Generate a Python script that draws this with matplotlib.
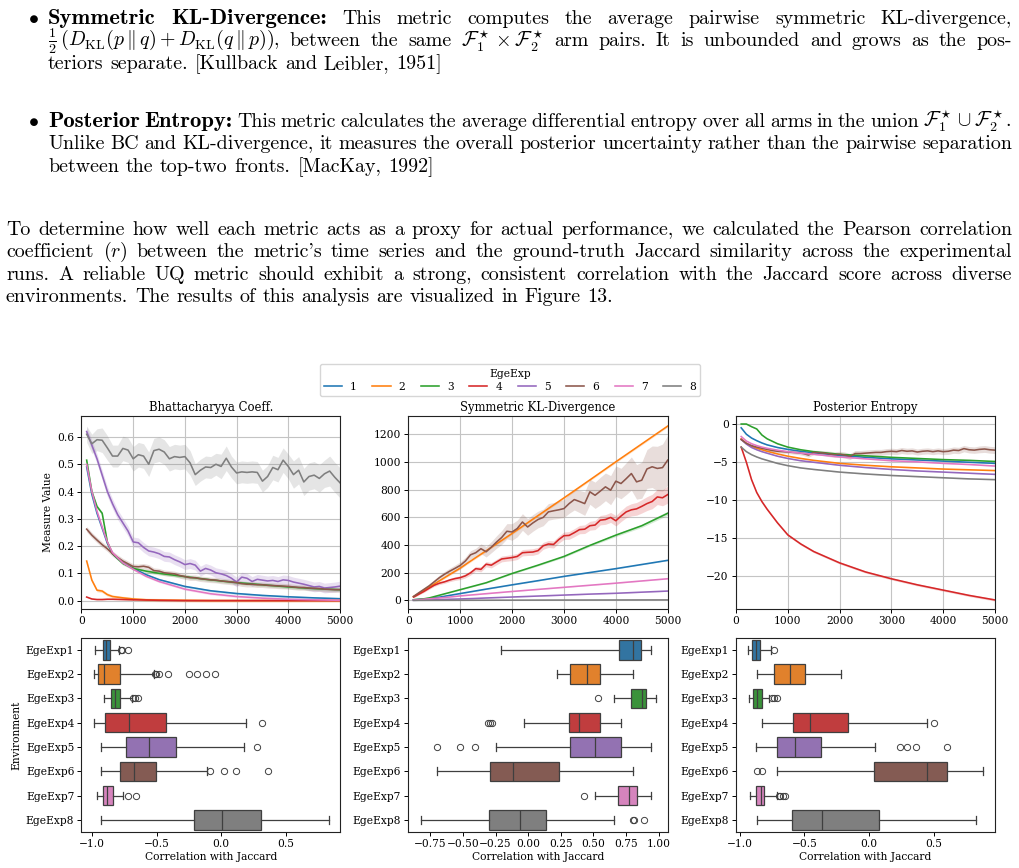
import numpy as np
import matplotlib
matplotlib.use("Agg")
import matplotlib.pyplot as plt
from matplotlib.lines import Line2D
from matplotlib.transforms import IdentityTransform

W, H = 1020, 868
plt.rcParams["font.family"] = "DejaVu Serif"
plt.rcParams["mathtext.fontset"] = "cm"

# ---------------------------------------------------------------- data
STEPS = list(range(100, 5001, 100))            # every logged step
STEPS_S = [100, 200, 300, 400, 500, 600, 800, 1000, 1250, 1500,
           2000, 2500, 3000, 3500, 4000, 4500, 5000]   # sparse log for smooth curves

ENVS = ["EgeExp1", "EgeExp2", "EgeExp3", "EgeExp4",
        "EgeExp5", "EgeExp6", "EgeExp7", "EgeExp8"]

# Bhattacharyya coefficient, mean and CI half-width per run
BC_1 = [.490, .390, .320, .265, .210, .172, .138, .118, .095, .077,
        .052, .036, .026, .019, .014, .010, .007]
BC_2 = [.145, .075, .038, .035, .022, .015, .010, .006, .003, .002,
        .001, .000, .000, .000, .000, .000, .000]
BC_3 = [.515, .400, .345, .320, .215, .172, .136, .118, .108, .100,
        .088, .076, .066, .058, .050, .044, .040]
BC_4 = [.013, .006, .004, .004, .005, .005, .004, .003, .002, .001,
        .000, .000, .000, .000, .000, .000, .000]
BC_5 = [.620, .570, .520, .460, .400, .355, .315, .285, .255, .215,
        .212, .195, .182, .178, .172, .162, .160, .150, .142, .132,
        .136, .130, .108, .118, .112, .102, .098, .092, .082, .068,
        .086, .082, .070, .078, .075, .072, .074, .070, .076, .074,
        .068, .064, .060, .055, .050, .052, .046, .048, .050, .053]
BC_6 = [.262, .240, .222, .205, .190, .172, .158, .145, .135, .125,
        .124, .126, .122, .110, .108, .102, .100, .098, .092, .088,
        .084, .084, .080, .078, .076, .075, .072, .070, .068, .066,
        .062, .060, .060, .058, .058, .056, .055, .054, .053, .052,
        .050, .048, .048, .046, .045, .044, .042, .041, .040, .040]
BC_7 = [.500, .400, .328, .270, .215, .176, .138, .115, .089, .070,
        .042, .025, .015, .009, .005, .003, .001]
BC_8 = [.610, .575, .590, .588, .560, .530, .530, .558, .552, .520,
        .535, .530, .500, .550, .555, .545, .520, .528, .525, .528,
        .505, .462, .478, .490, .488, .500, .492, .522, .490, .468,
        .472, .470, .472, .470, .438, .455, .488, .480, .515, .492,
        .462, .478, .435, .455, .460, .448, .465, .475, .452, .432]
BC_8_CI = [.030, .035, .040, .045, .045, .040, .040, .045, .045, .045,
           .045, .045, .045, .045, .045, .045, .045, .045, .045, .045,
           .045, .040, .040, .040, .040, .040, .045, .045, .040, .040,
           .040, .040, .040, .040, .040, .040, .045, .045, .045, .045,
           .050, .050, .050, .050, .050, .050, .050, .055, .055, .055]

# symmetric KL divergence
KL_1 = [5, 8, 11, 14, 20, 24, 37, 50, 66, 82, 113, 143, 174, 202, 230, 260, 290]
KL_2 = [28, 50, 73, 96, 119, 142, 188, 234, 297, 359, 484, 613, 741, 871, 1002, 1131, 1260]
KL_3 = [5, 8, 12, 18, 28, 38, 58, 78, 103, 128, 195, 255, 318, 398, 472, 540, 630]
KL_3_CI = [1, 1, 1, 2, 2, 2, 3, 3, 4, 4, 5, 6, 7, 8, 10, 12, 15]
KL_4 = [25, 45, 65, 88, 110, 125, 135, 148, 158, 165,
        178, 200, 230, 225, 262, 255, 278, 300, 305, 310,
        318, 345, 348, 350, 360, 395, 408, 405, 440, 468,
        470, 490, 512, 515, 540, 545, 580, 585, 600, 576,
        610, 640, 655, 662, 680, 700, 715, 748, 742, 765]
KL_4_CI = [5, 6, 7, 8, 9, 10, 11, 12, 13, 14,
           15, 16, 17, 18, 19, 20, 20, 21, 21, 22,
           22, 23, 23, 24, 24, 25, 25, 26, 26, 27,
           28, 29, 30, 31, 32, 33, 34, 35, 36, 38,
           40, 42, 44, 46, 48, 50, 52, 55, 58, 62]
KL_5 = [1, 2, 3, 4, 5, 6, 9, 11, 14, 18, 25, 32, 39, 46, 52, 60, 68]
KL_6 = [29, 55, 80, 105, 135, 165, 190, 212, 232, 253,
        285, 330, 345, 374, 352, 385, 422, 455, 500, 495,
        520, 567, 531, 560, 585, 600, 640, 648, 655, 664,
        700, 729, 715, 700, 785, 760, 790, 821, 797, 862,
        845, 880, 917, 857, 869, 950, 966, 954, 960, 1014]
KL_6_CI = [8, 10, 12, 14, 16, 18, 20, 22, 24, 26,
           28, 30, 32, 35, 38, 40, 45, 50, 55, 60,
           60, 60, 60, 60, 60, 60, 60, 60, 62, 65,
           70, 75, 80, 85, 90, 95, 100, 100, 105, 110,
           110, 115, 120, 125, 130, 140, 150, 160, 170, 180]
KL_7 = [3, 6, 9, 12, 15, 18, 25, 33, 41, 49, 65, 80, 95, 110, 125, 141, 157]
KL_8 = [0.5, 0.6, 0.7, 0.8, 0.9, 1.0, 1.2, 1.4, 1.6, 1.8, 2.2, 2.6, 3.0, 3.3, 3.6, 3.9, 4.2]

# posterior entropy
PE_1 = [-0.45, -1.3, -1.8, -2.15, -2.45, -2.7, -3.05, -3.3, -3.55, -3.75,
        -4.1, -4.35, -4.55, -4.7, -4.85, -5.0, -5.15]
PE_2 = [-1.9, -2.5, -2.9, -3.15, -3.35, -3.55, -3.9, -4.2, -4.5, -4.75,
        -5.15, -5.4, -5.6, -5.75, -5.9, -6.0, -6.1]
PE_3 = [0.05, 0.05, -0.3, -0.6, -1.4, -1.9, -2.55, -3.0, -3.35, -3.6,
        -3.95, -4.15, -4.35, -4.5, -4.65, -4.75, -4.9]
PE_4 = [-3.0, -5.0, -7.3, -9.0, -10.2, -11.2, -13.0, -14.6, -15.8, -16.8,
        -18.3, -19.5, -20.4, -21.2, -21.9, -22.6, -23.2]
PE_5 = [-2.0, -2.6, -3.05, -3.35, -3.6, -3.8, -4.2, -4.5, -4.8, -5.0,
        -5.4, -5.7, -5.95, -6.15, -6.3, -6.45, -6.6]
PE_6 = [-2.0, -2.5, -2.8, -3.0, -3.15, -3.3, -3.45, -3.55, -3.6, -3.65,
        -3.7, -3.75, -3.85, -4.05, -3.7, -3.75, -3.8, -3.9, -4.0, -3.95,
        -4.05, -4.25, -3.85, -3.85, -3.8, -3.75, -3.7, -3.7, -3.6, -3.55,
        -3.6, -3.45, -3.55, -3.5, -3.65, -3.55, -3.5, -3.6, -3.5, -3.6,
        -3.55, -3.4, -3.45, -3.2, -3.35, -3.4, -3.3, -3.25, -3.35, -3.4]
PE_6_CI = [0.10, 0.12, 0.14, 0.16, 0.18, 0.20, 0.20, 0.20, 0.20, 0.20,
           0.22, 0.24, 0.26, 0.28, 0.30, 0.32, 0.34, 0.36, 0.38, 0.40,
           0.40, 0.40, 0.40, 0.40, 0.40, 0.40, 0.40, 0.40, 0.40, 0.40,
           0.40, 0.40, 0.40, 0.40, 0.40, 0.40, 0.40, 0.40, 0.40, 0.40,
           0.42, 0.42, 0.42, 0.42, 0.42, 0.42, 0.45, 0.45, 0.45, 0.45]
PE_7 = [-1.6, -2.2, -2.55, -2.8, -3.0, -3.15, -3.4, -3.6, -3.8, -3.95,
        -4.3, -4.55, -4.8, -4.95, -5.15, -5.3, -5.5]
PE_8 = [-3.0, -3.6, -4.0, -4.3, -4.55, -4.75, -5.15, -5.45, -5.75, -5.95,
        -6.3, -6.55, -6.75, -6.9, -7.05, -7.2, -7.3]

# (x grid, mean, CI half-width) for runs 1..8
BC_RUNS = [(STEPS_S, BC_1, .004), (STEPS_S, BC_2, .006), (STEPS_S, BC_3, .006),
           (STEPS_S, BC_4, .002), (STEPS, BC_5, .018), (STEPS, BC_6, .010),
           (STEPS_S, BC_7, .004), (STEPS, BC_8, BC_8_CI)]
KL_RUNS = [(STEPS_S, KL_1, 3), (STEPS_S, KL_2, 8), (STEPS_S, KL_3, KL_3_CI),
           (STEPS, KL_4, KL_4_CI), (STEPS_S, KL_5, 2), (STEPS, KL_6, KL_6_CI),
           (STEPS_S, KL_7, 2), (STEPS_S, KL_8, 1)]
PE_RUNS = [(STEPS_S, PE_1, .05), (STEPS_S, PE_2, .05), (STEPS_S, PE_3, .05),
           (STEPS_S, PE_4, .15), (STEPS_S, PE_5, .05), (STEPS, PE_6, PE_6_CI),
           (STEPS_S, PE_7, .05), (STEPS_S, PE_8, .05)]

# correlation with Jaccard: whislo, q1, median, q3, whishi ; fliers
BC_BOX = [(-0.975, -0.918, -0.889, -0.858, -0.795), (-0.987, -0.956, -0.905, -0.781, -0.52),
          (-0.91, -0.85, -0.82, -0.786, -0.69), (-0.987, -0.90, -0.711, -0.428, 0.19),
          (-0.93, -0.735, -0.559, -0.348, 0.18), (-0.93, -0.781, -0.673, -0.508, -0.11),
          (-0.96, -0.918, -0.884, -0.838, -0.763), (-0.93, -0.209, 0.005, 0.307, 0.832)]
BC_FLIERS = [[-0.775, -0.765, -0.72], [-0.515, -0.505, -0.48, -0.41, -0.25, -0.19, -0.12, -0.05],
             [-0.68, -0.665, -0.645], [0.314], [0.276], [-0.085, 0.02, 0.116, 0.363],
             [-0.72, -0.66], []]
KL_BOX = [(-0.21, 0.70, 0.80, 0.868, 0.94), (0.22, 0.32, 0.45, 0.55, 0.80),
          (0.66, 0.79, 0.87, 0.90, 0.98), (-0.03, 0.31, 0.39, 0.55, 0.71),
          (-0.25, 0.32, 0.51, 0.71, 0.94), (-0.70, -0.29, -0.12, 0.235, 0.80),
          (0.51, 0.69, 0.77, 0.835, 0.94), (-0.82, -0.30, -0.06, 0.14, 0.655)]
KL_FLIERS = [[], [], [0.535], [-0.31, -0.295, -0.28], [-0.70, -0.52, -0.41], [],
             [0.43], [0.80, 0.81, 0.89]]
PE_BOX = [(-0.935, -0.91, -0.876, -0.845, -0.763), (-0.866, -0.737, -0.613, -0.497, -0.219),
          (-0.928, -0.897, -0.866, -0.832, -0.773), (-0.832, -0.588, -0.459, -0.162, 0.451),
          (-0.876, -0.716, -0.57, -0.376, 0.049), (-0.709, 0.039, 0.448, 0.606, 0.881),
          (-0.923, -0.876, -0.838, -0.812, -0.716), (-0.866, -0.595, -0.363, 0.077, 0.825)]
PE_FLIERS = [[-0.737], [], [-0.755, -0.737, -0.716], [0.50], [0.237, 0.296, 0.361, 0.603],
             [-0.871, -0.832], [-0.70, -0.69, -0.67, -0.65], []]

# page text, one list of words per printed line ("**" marks bold)
LINES_KL = [
    ["**Symmetric", "**KL-Divergence:", "This", "metric", "computes", "the", "average",
     "pairwise", "symmetric", "KL-divergence,"],
    [r"$\frac{1}{2}\,(D_{\mathrm{KL}}(p\,\Vert\,q)+D_{\mathrm{KL}}(q\,\Vert\,p))$,", "between",
     "the", "same", r"$\mathcal{F}_1^\star\times\mathcal{F}_2^\star$", "arm", "pairs.", "It", "is",
     "unbounded", "and", "grows", "as", "the", "pos-"],
    ["teriors", "separate.", "[Kullback", "and", "Leibler,", "1951]"],
]
LINES_PE = [
    ["**Posterior", "**Entropy:", "This", "metric", "calculates", "the", "average", "differential",
     "entropy", "over", "all", "arms", "in", "the", "union",
     r"$\mathcal{F}_1^\star\cup\mathcal{F}_2^\star$."],
    ["Unlike", "BC", "and", "KL-divergence,", "it", "measures", "the", "overall", "posterior",
     "uncertainty", "rather", "than", "the", "pairwise", "separation"],
    ["between", "the", "top-two", "fronts.", "[MacKay,", "1992]"],
]
LINES_PAR = [
    ["To", "determine", "how", "well", "each", "metric", "acts", "as", "a", "proxy", "for",
     "actual", "performance,", "we", "calculated", "the", "Pearson", "correlation"],
    ["coefficient", r"$(r)$", "between", "the", "metric's", "time", "series", "and", "the",
     "ground-truth", "Jaccard", "similarity", "across", "the", "experimental"],
    ["runs.", "A", "reliable", "UQ", "metric", "should", "exhibit", "a", "strong,", "consistent",
     "correlation", "with", "the", "Jaccard", "score", "across", "diverse"],
    ["environments.", "The", "results", "of", "this", "analysis", "are", "visualized", "in",
     "Figure", "13."],
]

LINE_COLORS = ["#1f77b4", "#ff7f0e", "#2ca02c", "#d62728",
               "#9467bd", "#8c564b", "#e377c2", "#7f7f7f"]
BOX_COLORS = ["#3274a1", "#e1812c", "#3a923a", "#c03d3e",
              "#9372b2", "#845b53", "#d684bd", "#7f7f7f"]
DARK = "#3f3f3f"
FS = 7.7          # plot labels and ticks
FS_TITLE = 8.4
TXT = 14.4        # page body text
TXT_BOLD = 16.3

fig = plt.figure(figsize=(W / 100, H / 100), dpi=100)
fig.patch.set_facecolor("white")
rend = fig.canvas.get_renderer()


def text_line(words, x0, x1, base, justify=True, space=6.8):
    items = []
    for w in words:
        bold = w.startswith("**")
        t = fig.text(0, 0, w[2:] if bold else w, transform=IdentityTransform(),
                     fontsize=TXT_BOLD if bold else TXT,
                     family="cmb10" if bold else "cmr10",
                     ha="left", va="baseline", color="black")
        items.append(t)
    widths = [t.get_window_extent(rend).width for t in items]
    gap = (x1 - x0 - sum(widths)) / (len(items) - 1) if justify else space
    x = x0
    for t, w in zip(items, widths):
        t.set_position((x, H - base))
        x += w + gap


def block(lines, x0, x1, base0, lead=22.4):
    for i, words in enumerate(lines):
        text_line(words, x0, x1, base0 + i * lead, justify=i < len(lines) - 1)


def bullet(base):
    fig.text(33, H - base + 1, r"$\bullet$", transform=IdentityTransform(),
             fontsize=TXT, ha="center", va="baseline")


bullet(24)
block(LINES_KL, 48, 1012, 24)
bullet(127)
block(LINES_PE, 48, 1012, 127)
block(LINES_PAR, 6, 1012, 235)


def px_axes(l, t, r, b):
    return fig.add_axes([l / W, 1 - b / H, (r - l) / W, (b - t) / H])


def style(ax):
    ax.tick_params(labelsize=FS, length=2.7, width=0.7, pad=2.5)
    for s in ax.spines.values():
        s.set_linewidth(0.8)
        s.set_color("#222222")


def lines_panel(ax, runs, title, ylim):
    for (xs, ys, ci), c in zip(runs, LINE_COLORS):
        xs, ys = np.asarray(xs, float), np.asarray(ys, float)
        ci = np.broadcast_to(np.asarray(ci, float), ys.shape)
        ax.fill_between(xs, ys - ci, ys + ci, color=c, alpha=0.2, lw=0)
        ax.plot(xs, ys, color=c, lw=1.15)
    ax.set_xlim(0, 5000)
    ax.set_ylim(*ylim)
    ax.set_xticks([0, 1000, 2000, 3000, 4000, 5000])
    ax.grid(True, color="#c4c4c4", lw=0.8)
    ax.set_axisbelow(True)
    ax.set_title(title, fontsize=FS_TITLE, pad=3.5)
    style(ax)


def box_panel(ax, boxes, fliers, xlim):
    stats = []
    for (lo, q1, med, q3, hi), fl, lab in zip(boxes, fliers, ENVS):
        stats.append(dict(whislo=lo, q1=q1, med=med, q3=q3, whishi=hi,
                          fliers=fl, label=lab))
    art = ax.bxp(stats, positions=range(8), widths=0.8, orientation="horizontal",
                 patch_artist=True, capwidths=0.32,
                 boxprops=dict(edgecolor=DARK, lw=0.9),
                 whiskerprops=dict(color=DARK, lw=0.9),
                 capprops=dict(color=DARK, lw=0.9),
                 medianprops=dict(color=DARK, lw=0.9),
                 flierprops=dict(marker="o", mfc="none", mec=DARK, ms=4.5, mew=0.7))
    for p, c in zip(art["boxes"], BOX_COLORS):
        p.set_facecolor(c)
    ax.set_ylim(7.5, -0.5)
    ax.set_xlim(*xlim)
    ax.set_xlabel("Correlation with Jaccard", fontsize=FS, labelpad=2)
    style(ax)


ax1 = px_axes(81.5, 415.7, 340, 608.5)
ax2 = px_axes(408.3, 415.7, 667.7, 608.5)
ax3 = px_axes(736, 415.7, 995, 608.5)
lines_panel(ax1, BC_RUNS, "Bhattacharyya Coeff.", (-0.029, 0.678))
lines_panel(ax2, KL_RUNS, "Symmetric KL-Divergence", (-58, 1335))
lines_panel(ax3, PE_RUNS, "Posterior Entropy", (-24.33, 1.15))
ax1.set_ylabel("Measure Value", fontsize=FS, labelpad=3)

ax4 = px_axes(81.5, 637.7, 340, 832)
ax5 = px_axes(408.3, 637.7, 667.7, 832)
ax6 = px_axes(736, 637.7, 995, 832)
box_panel(ax4, BC_BOX, BC_FLIERS, (-1.082, 0.92))
box_panel(ax5, KL_BOX, KL_FLIERS, (-0.92, 1.07))
box_panel(ax6, PE_BOX, PE_FLIERS, (-1.03, 0.974))
ax4.set_ylabel("Environment", fontsize=FS, labelpad=3)

handles = [Line2D([], [], color=c, lw=1.15) for c in LINE_COLORS]
fig.legend(handles, [str(i) for i in range(1, 9)], title="EgeExp", ncol=8,
           loc="upper center", bbox_to_anchor=(0.5, 1 - 359 / H), fontsize=FS,
           title_fontsize=FS, handlelength=1.7, columnspacing=1.45,
           borderpad=0.4, labelspacing=0.3, handletextpad=0.75)

fig.savefig("out.png", dpi=100, facecolor="white")
